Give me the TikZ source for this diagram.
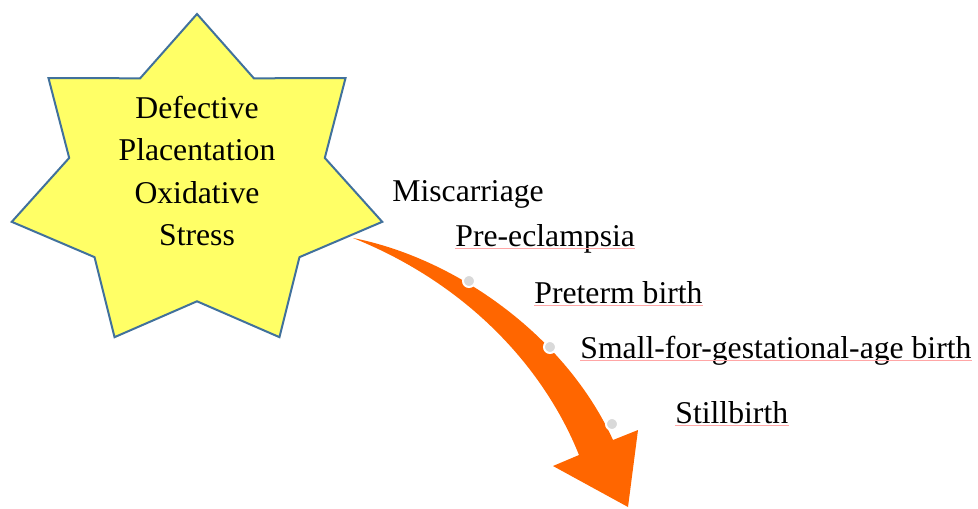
\documentclass[tikz,border=0pt]{standalone}
\usepackage{fontspec}
\setmainfont{Liberation Serif}
\usetikzlibrary{arrows.meta,positioning}
\definecolor{starfill}{HTML}{FFFF66}
\definecolor{starline}{HTML}{41719C}
\definecolor{flowor}{HTML}{FF6600}
\definecolor{dotgray}{HTML}{D9D9D9}
\definecolor{squigred}{HTML}{FFA6A6}
\tikzset{
  starbody/.style ={draw=starline,fill=starfill,line width=1pt,line join=miter},
  causetext/.style={align=center,inner sep=0pt,font=\fontsize{15.85}{21.15}\selectfont},
  outcome/.style  ={anchor=base west,inner sep=0pt,font=\fontsize{15.85}{21.15}\selectfont},
  flowarrow/.style={fill=flowor,draw=none},
  bullet/.style   ={circle,fill=dotgray,draw=white,line width=1pt,inner sep=0pt,minimum size=6pt},
  squig/.style    ={draw=squigred,line width=0.4pt},
}

\begin{document}
\begin{tikzpicture}[x=0.5pt,y=-0.5pt]
\useasboundingbox (0,0) rectangle (978,508);

% seven-pointed star
\draw[starbody] (197,14)
  \foreach \k in {1,...,13}{
    -- ({197+190*(1-0.31*mod(\k,2))*cos(-90+\k*360/14)},
        {184+170*(1-0.31*mod(\k,2))*sin(-90+\k*360/14)})
  } -- cycle;
\node[causetext] (cause) at (197,171)
   {Defective\\Placentation\\Oxidative\\Stress};

% curved arrow
\coordinate (tail) at (353,238);
\coordinate (neckr) at (613,440);
\coordinate (neckl) at (579,455);
\fill[flowarrow] (tail) .. controls (455,258) and (565,335) .. (neckr)
   -- (638,430) -- (628,507) -- (553,466) -- (neckl)
   .. controls (545,370) and (470,285) .. (tail) -- cycle;

\node[bullet] (b1) at (469,281) {};
\node[bullet] (b2) at (550,347) {};
\node[bullet] (b3) at (612,424) {};

% outcomes
\node[outcome] (miscar)  at (392,201) {Miscarriage};
\node[outcome] (preecl)  at (455,246) {Pre-eclampsia};
\node[outcome] (preterm) at (534,303) {Preterm birth};
\node[outcome] (sga)     at (580,358) {Small-for-gestational-age birth};
\node[outcome] (still)   at (675,423) {Stillbirth};

\foreach \n in {preecl,preterm,sga,still}{
  \draw[squig] ([yshift=-1pt]\n.base west) -- ([yshift=-1pt]\n.base east);}

\end{tikzpicture}
\end{document}
